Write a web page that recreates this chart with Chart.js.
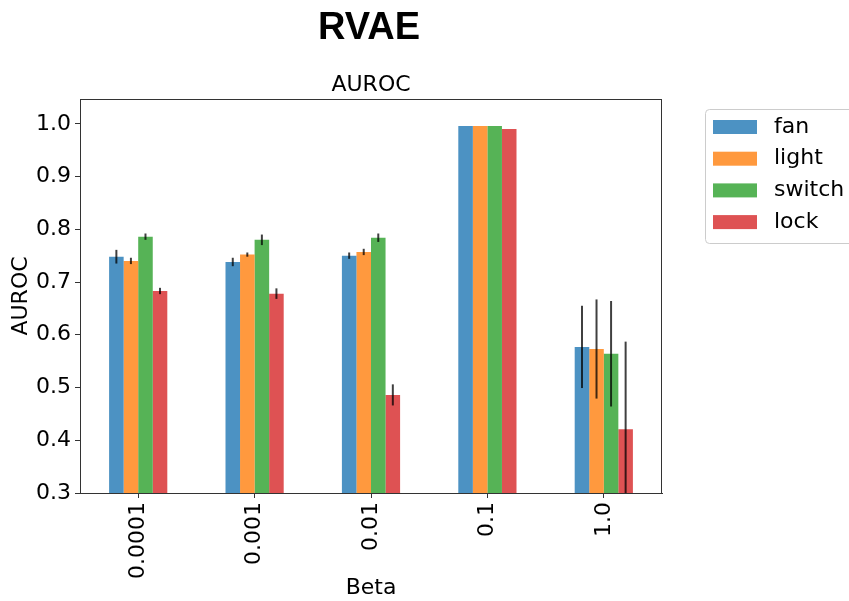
<!DOCTYPE html>
<html>
<head>
<meta charset="utf-8">
<script src="https://cdn.jsdelivr.net/npm/chart.js@4"></script>
<style>
  html, body { margin: 0; padding: 0; background: #fff; }
  #wrap { width: 849px; height: 601px; }
</style>
</head>
<body>
<div id="wrap"><canvas id="rvaeChart" width="849" height="601"></canvas></div>
<script>
// categories (beta values)
const betas = ["0.0001", "0.001", "0.01", "0.1", "1.0"];

// AUROC means per device
const fanVals = [0.748, 0.738, 0.750, 0.996, 0.577];
const lightVals = [0.740, 0.752, 0.757, 0.996, 0.573];
const switchVals = [0.786, 0.780, 0.784, 0.996, 0.564];
const lockVals = [0.683, 0.678, 0.486, 0.990, 0.421];

// error bar half-lengths
const fanErr = [0.013, 0.008, 0.006, 0.0, 0.078];
const lightErr = [0.006, 0.004, 0.006, 0.0, 0.094];
const switchErr = [0.006, 0.010, 0.008, 0.0, 0.100];
const lockErr = [0.006, 0.010, 0.020, 0.0, 0.166];

const yTicks = [0.3, 0.4, 0.5, 0.6, 0.7, 0.8, 0.9, 1.0];

const font = "'DejaVu Sans', sans-serif";

// error bars drawn over the bars
const errorBars = {
    id: "errorBars",
    afterDatasetsDraw(chart) {
        const ctx = chart.ctx;
        const yScale = chart.scales.y;
        const area = chart.chartArea;
        ctx.save();
        ctx.beginPath();
        ctx.rect(area.left, area.top, area.right - area.left, area.bottom - area.top);
        ctx.clip();
        ctx.strokeStyle = "rgba(0,0,0,0.75)";
        ctx.lineWidth = 2;
        chart.data.datasets.forEach((ds, i) => {
            const meta = chart.getDatasetMeta(i);
            meta.data.forEach((bar, j) => {
                const err = ds.errors[j];
                if (!err) return;
                const v = ds.data[j];
                ctx.beginPath();
                ctx.moveTo(bar.x, yScale.getPixelForValue(v - err));
                ctx.lineTo(bar.x, yScale.getPixelForValue(v + err));
                ctx.stroke();
            });
        });
        ctx.restore();
    }
};

// frame, titles and legend in matplotlib style
const decorations = {
    id: "decorations",
    afterDraw(chart) {
        const ctx = chart.ctx;
        const area = chart.chartArea;
        ctx.save();
        ctx.strokeStyle = "#333";
        ctx.lineWidth = 1;
        ctx.strokeRect(area.left + 0.5, area.top + 0.5, area.right - area.left - 1, area.bottom - area.top);

        ctx.fillStyle = "#000";
        ctx.textAlign = "center";
        ctx.textBaseline = "middle";
        ctx.font = "bold 38px 'Liberation Sans', Arial, sans-serif";
        ctx.fillText("RVAE", 369, 29);
        ctx.font = "22px " + font;
        ctx.fillText("AUROC", (area.left + area.right) / 2, 85);

        // legend
        const lx = 705, ly = 109, lw = 160, lh = 134;
        ctx.strokeStyle = "#ccc";
        ctx.beginPath();
        ctx.roundRect(lx + 0.5, ly + 0.5, lw, lh, 4);
        ctx.fillStyle = "rgba(255,255,255,0.8)";
        ctx.fill();
        ctx.stroke();
        ctx.textAlign = "left";
        ctx.font = "22px " + font;
        chart.data.datasets.forEach((ds, i) => {
            const cy = 127 + i * 31.7;
            ctx.fillStyle = ds.backgroundColor;
            ctx.fillRect(713, cy - 7, 44, 14);
            ctx.fillStyle = "#000";
            ctx.fillText(ds.label, 774, cy);
        });
        ctx.restore();
    }
};

function makeSet(label, values, errors, color) {
    return {
        label: label,
        data: values,
        errors: errors,
        backgroundColor: color,
        borderWidth: 0,
        categoryPercentage: 0.5,
        barPercentage: 1.0
    };
}

new Chart(document.getElementById("rvaeChart"), {
    type: "bar",
    data: {
        labels: betas,
        datasets: [
            makeSet("fan", fanVals, fanErr, "rgba(31,119,180,0.8)"),
            makeSet("light", lightVals, lightErr, "rgba(255,127,14,0.8)"),
            makeSet("switch", switchVals, switchErr, "rgba(44,160,44,0.8)"),
            makeSet("lock", lockVals, lockErr, "rgba(214,39,40,0.8)")
        ]
    },
    options: {
        responsive: false,
        animation: false,
        layout: { padding: { top: 99, right: 187, left: 0, bottom: 0 } },
        plugins: {
            legend: { display: false },
            tooltip: { enabled: false }
        },
        scales: {
            x: {
                grid: { display: true, drawOnChartArea: false, offset: false, tickLength: 5, color: "#333" },
                border: { display: true, color: "#333" },
                ticks: {
                    minRotation: 90, maxRotation: 90, padding: 4,
                    color: "#000", font: { size: 22, family: font }
                },
                title: { display: true, text: "Beta", color: "#000", font: { size: 22, family: font }, padding: { top: 0, bottom: 0 } },
                afterFit(scale) { scale.height = 108; }
            },
            y: {
                min: 0.3,
                max: 1.047,
                grid: { display: true, drawOnChartArea: false, tickLength: 5, color: "#333" },
                border: { display: true, color: "#333" },
                afterBuildTicks(scale) { scale.ticks = yTicks.map(v => ({ value: v })); },
                ticks: {
                    padding: 4, color: "#000", font: { size: 22, family: font },
                    callback: v => v.toFixed(1)
                },
                title: { display: true, text: "AUROC", color: "#000", font: { size: 22, family: font }, padding: { top: 8, bottom: 0 } },
                afterFit(scale) { scale.width = 80; }
            }
        }
    },
    plugins: [errorBars, decorations]
});
</script>
</body>
</html>
